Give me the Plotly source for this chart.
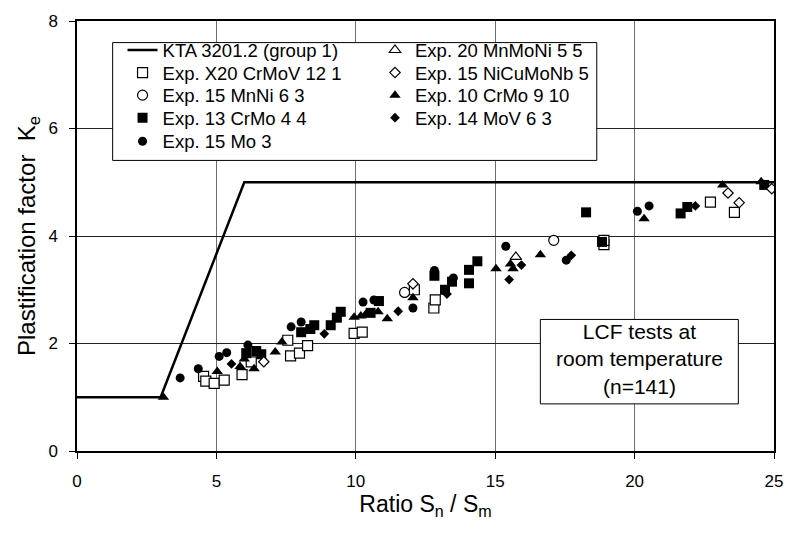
import plotly.graph_objects as go

# KTA 3201.2 design curve
kta_x = [0, 3, 6, 25]
kta_y = [1, 1, 5, 5]

# Exp. X20 CrMoV 12 1 (open squares)
x20_x = [4.54, 4.62, 4.92, 5.28, 5.92, 6.25, 7.56, 7.66, 7.98, 8.27, 9.94, 10.23, 12.1, 12.8, 12.85, 18.9, 18.9, 22.72, 23.58]
x20_y = [1.39, 1.30, 1.26, 1.32, 1.42, 1.66, 2.06, 1.77, 1.82, 1.96, 2.19, 2.21, 3.00, 2.66, 2.81, 3.84, 3.92, 4.63, 4.44]

# Exp. 15 MnNi 6 3 (open circles)
mnni_x = [11.75, 17.1]
mnni_y = [2.95, 3.92]

# Exp. 13 CrMo 4 4 (filled squares)
crmo44_x = [6.07, 6.43, 6.61, 8.04, 8.37, 8.51, 9.1, 9.32, 9.46, 10.53, 10.83, 12.82, 13.2, 13.45, 14.06, 14.06, 14.36, 18.26, 18.83, 21.65, 21.89, 24.65]
crmo44_y = [1.82, 1.86, 1.80, 2.21, 2.27, 2.34, 2.34, 2.48, 2.59, 2.57, 2.79, 3.26, 3.00, 3.15, 3.12, 3.37, 3.53, 4.44, 3.89, 4.42, 4.54, 4.95]

# Exp. 15 Mo 3 (filled circles)
mo3_x = [3.7, 4.35, 5.1, 5.37, 6.13, 7.68, 8.04, 10.26, 10.65, 12.05, 12.82, 13.5, 15.38, 17.55, 20.1, 20.52]
mo3_y = [1.36, 1.53, 1.76, 1.83, 1.97, 2.31, 2.40, 2.77, 2.81, 2.66, 3.36, 3.22, 3.81, 3.55, 4.46, 4.56]

# Exp. 20 MnMoNi 5 5 (open triangles)
mnmoni_x = [15.74]
mnmoni_y = [3.61]

# Exp. 15 NiCuMoNb 5 (open diamonds)
nicu_x = [6.7, 12.05, 23.35, 23.75, 24.92]
nicu_y = [1.66, 3.11, 4.80, 4.62, 4.88]

# Exp. 10 CrMo 9 10 (filled triangles)
crmo910_x = [3.1, 5.03, 5.85, 6.0, 6.35, 7.11, 7.35, 9.94, 10.18, 10.35, 10.8, 11.13, 12.05, 15.03, 15.55, 15.64, 16.62, 20.34, 23.16, 24.54]
crmo910_y = [1.0, 1.48, 1.57, 1.71, 1.53, 1.84, 2.03, 2.49, 2.51, 2.54, 2.59, 2.46, 2.85, 3.39, 3.48, 3.39, 3.65, 4.32, 4.95, 5.01]

# Exp. 14 MoV 6 3 (filled diamonds)
mov_x = [5.54, 8.87, 11.52, 13.27, 15.5, 15.94, 17.73, 22.18]
mov_y = [1.62, 2.18, 2.60, 2.92, 3.19, 3.46, 3.64, 4.56]

x_ticks = [0, 5, 10, 15, 20, 25]
y_ticks = [0, 2, 4, 6, 8]

FONT = "Liberation Sans, Arial, sans-serif"
LEG_FONT = 18.5

# plot area in pixels (for placing legend rows)
L, R, T, B = 77, 781, 13, 451
def px2paper_x(px):
    return (px - L) / (R - L)
def px2paper_y(py):
    return (B - py) / (B - T)

fig = go.Figure()

fig.add_trace(go.Scatter(x=kta_x, y=kta_y, mode="lines", name="KTA 3201.2 (group 1)",
                         line=dict(color="black", width=2.5), legend="legend"))

def add_pts(x, y, name, symbol, filled, size, legend):
    if filled:
        marker = dict(symbol=symbol, size=size, color="black", line=dict(width=0))
    else:
        marker = dict(symbol=symbol, size=size, color="white", line=dict(color="black", width=1.2))
    fig.add_trace(go.Scatter(x=x, y=y, mode="markers", name=name, marker=marker, legend=legend))

add_pts(x20_x, x20_y, "Exp. X20 CrMoV 12 1", "square", False, 10, "legend2")
add_pts(mnni_x, mnni_y, "Exp. 15 MnNi 6 3", "circle", False, 10, "legend3")
add_pts(crmo44_x, crmo44_y, "Exp. 13 CrMo 4 4", "square", True, 10, "legend4")
add_pts(mo3_x, mo3_y, "Exp. 15 Mo 3", "circle", True, 9, "legend5")
add_pts(mnmoni_x, mnmoni_y, "Exp. 20 MnMoNi 5 5", "triangle-up", False, 10, "legend6")
add_pts(nicu_x, nicu_y, "Exp. 15 NiCuMoNb 5", "diamond", False, 8, "legend7")
add_pts(crmo910_x, crmo910_y, "Exp. 10 CrMo 9 10", "triangle-up", True, 10, "legend8")
add_pts(mov_x, mov_y, "Exp. 14 MoV 6 3", "diamond", True, 7.5, "legend9")

axis_common = dict(showline=True, linecolor="black", linewidth=1.5, ticks="outside", mirror=True,
                   ticklen=6, tickwidth=1, tickcolor="black", zeroline=False,
                   tickfont=dict(family=FONT, size=17, color="black"))

row_y = [43, 66, 89, 112, 136]
col1_px = 123
col2_px = 378
legends = {}
for i, nm in enumerate(["legend", "legend2", "legend3", "legend4", "legend5"]):
    legends[nm] = dict(x=px2paper_x(col1_px), y=px2paper_y(row_y[i]), xanchor="left", yanchor="middle",
                       bgcolor="rgba(0,0,0,0)", font=dict(family=FONT, size=LEG_FONT), itemwidth=30)
for i, nm in enumerate(["legend6", "legend7", "legend8", "legend9"]):
    legends[nm] = dict(x=px2paper_x(col2_px), y=px2paper_y(row_y[i]), xanchor="left", yanchor="middle",
                       bgcolor="rgba(0,0,0,0)", font=dict(family=FONT, size=LEG_FONT), itemwidth=30)

fig.update_layout(
    width=795, height=534,
    margin=dict(l=L, r=795 - R, t=T, b=534 - B),
    paper_bgcolor="white", plot_bgcolor="white",
    font=dict(family=FONT, size=17, color="black"),
    xaxis=dict(range=[0, 25], tickvals=x_ticks, showgrid=True, gridcolor="#6e6e6e", gridwidth=1.3,
               ticklabelstandoff=8,
               title=dict(text="Ratio S<sub>n</sub> / S<sub>m</sub>", font=dict(family=FONT, size=23), standoff=6),
               **axis_common),
    yaxis=dict(range=[0, 8], tickvals=y_ticks, showgrid=True, gridcolor="#222222", gridwidth=1,
               ticklabelstandoff=8,
               title=dict(text="Plastification factor&nbsp; K<sub>e</sub>", font=dict(family=FONT, size=24), standoff=6),
               **axis_common),
    shapes=[
        dict(type="rect", xref="paper", yref="paper", x0=px2paper_x(113), x1=px2paper_x(602),
             y0=px2paper_y(155), y1=px2paper_y(35),
             line=dict(color="black", width=1), fillcolor="white", layer="above"),
        dict(type="rect", xref="paper", yref="paper", x0=px2paper_x(545), x1=px2paper_x(745),
             y0=px2paper_y(403), y1=px2paper_y(317),
             line=dict(color="black", width=1), fillcolor="white", layer="above"),
    ],
    annotations=[
        dict(xref="paper", yref="paper", x=px2paper_x(645), y=px2paper_y(357), showarrow=False,
             xanchor="center", yanchor="middle",
             text="LCF tests at<br>room temperature<br>(n=141)", align="center",
             font=dict(family=FONT, size=21, color="black")),
    ],
    showlegend=True,
    **legends,
)

fig.write_html("out.html")
